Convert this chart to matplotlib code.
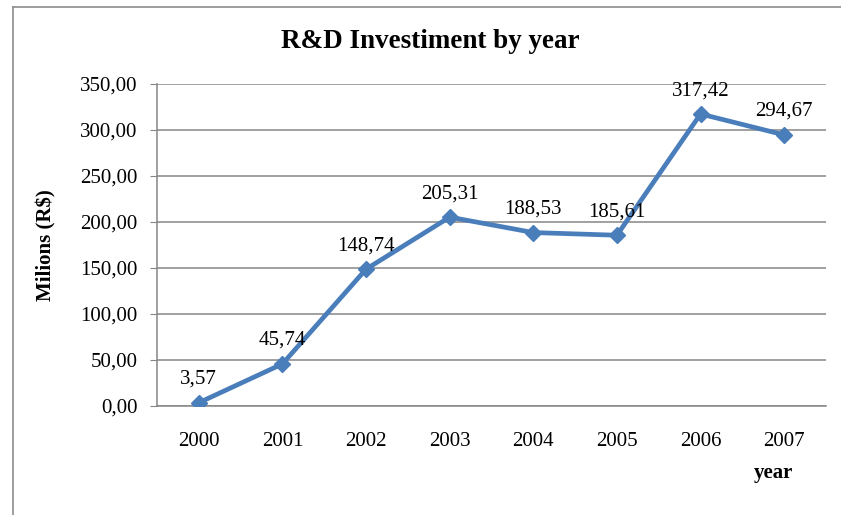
import matplotlib.pyplot as plt
from matplotlib.lines import Line2D

years = ['2000', '2001', '2002', '2003', '2004', '2005', '2006', '2007']
values = [3.57, 45.74, 148.74, 205.31, 188.53, 185.61, 317.42, 294.67]
yticks = [0, 50, 100, 150, 200, 250, 300, 350]

plt.rcParams['font.family'] = ['Liberation Serif', 'DejaVu Serif']

fig = plt.figure(figsize=(8.41, 5.15), dpi=100)
W, H = 841, 515
ax = fig.add_axes([157 / W, 1 - 406 / H, (826 - 157) / W, (406 - 84) / H])

# chart frame (left/top edges visible)
fig.add_artist(Line2D([13 / W, 13 / W], [0, 1 - 7 / H], transform=fig.transFigure,
                      color='#8c8c8c', lw=1.2))
fig.add_artist(Line2D([13 / W, 1], [1 - 7 / H, 1 - 7 / H], transform=fig.transFigure,
                      color='#8c8c8c', lw=1.2))

x = list(range(len(years)))
ax.plot(x, values, color='#4a7ebb', lw=3.4, marker='D', markersize=8.5, zorder=3)

for xi, v in zip(x, values):
    ax.annotate(f'{v:.2f}'.replace('.', ','), (xi, v), xytext=(0, 10),
                textcoords='offset points', ha='center', va='bottom', fontsize=15)

ax.set_xlim(-0.5, len(years) - 0.5)
ax.set_ylim(0, 350)
ax.set_xticks(x)
ax.set_xticklabels(years, fontsize=15)
ax.set_yticks(yticks)
ax.set_yticklabels([f'{t:.2f}'.replace('.', ',') for t in yticks], fontsize=15)
ax.tick_params(axis='x', length=0, pad=19)
ax.tick_params(axis='y', length=5, color='#868686', pad=9)
ax.grid(axis='y', color='#868686', lw=1.1)
ax.set_axisbelow(True)
for s in ['top', 'right']:
    ax.spines[s].set_visible(False)
for s in ['left', 'bottom']:
    ax.spines[s].set_color('#868686')
    ax.spines[s].set_linewidth(1.1)

fig.text(430 / W, 1 - 42 / H, 'R&D Investiment by year', ha='center', va='center',
         fontsize=19.5, fontweight='bold')
fig.text(46 / W, 1 - 245 / H, 'Milions (R$)', ha='center', va='center', rotation=90,
         fontsize=15, fontweight='bold')
fig.text(773 / W, 1 - 473 / H, 'year', ha='center', va='center',
         fontsize=15, fontweight='bold')

fig.savefig('out.png', dpi=100)
